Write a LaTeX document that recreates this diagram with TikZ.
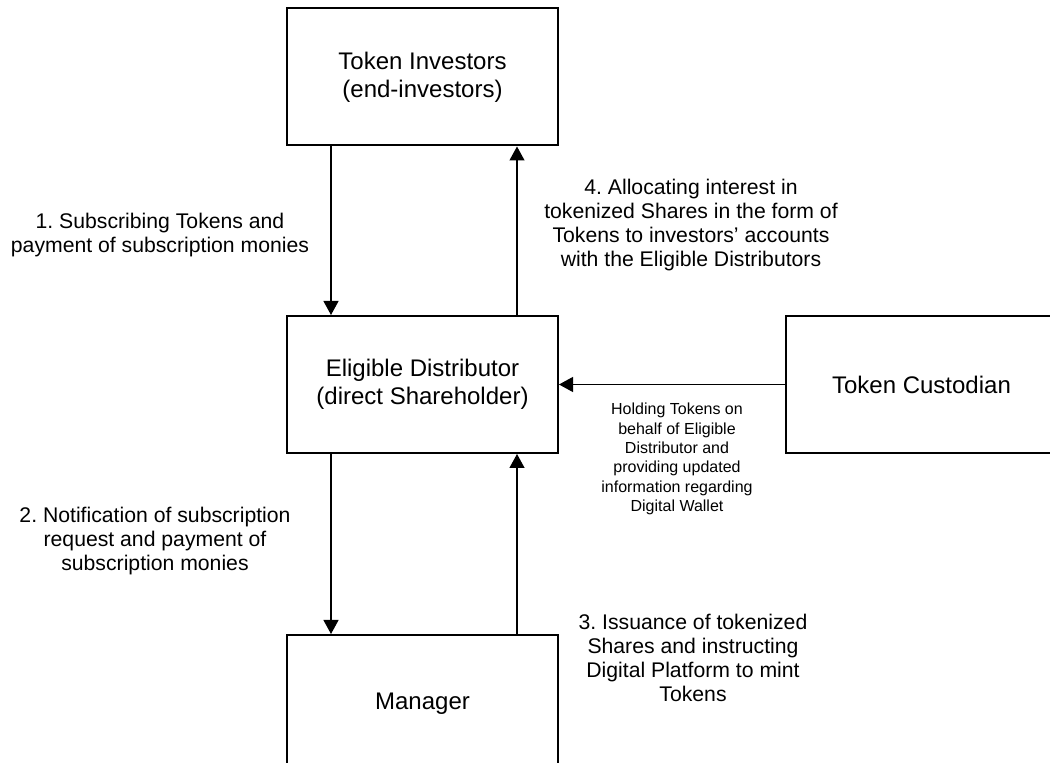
\documentclass[tikz,border=0pt]{standalone}
\usepackage{fontspec}
\setmainfont{Liberation Sans}
\usetikzlibrary{arrows.meta}
\usetikzlibrary{calc}
\frenchspacing

\begin{document}
\begin{tikzpicture} [x=0.5pt, y=-0.5pt,
         box/.style={draw, line width=1pt, minimum width=135.5pt, minimum height=68.5pt,
                     align=center, font=\fontsize{12}{14}\selectfont},
         note/.style={align=center, font=\fontsize{10.6}{12}\selectfont},
         small/.style={align=center, font=\fontsize{8}{9.7}\selectfont},
         flow/.style={-{Triangle[width=7.5pt,length=7pt]}, line width=0.6pt}]
   \useasboundingbox (0,0) rectangle (1050,763);

   % boxes
   \node[box] (inv)  at (422.5,77)    {Token Investors\\(end-investors)};
   \node[box] (dist) at (422.5,384.5) {Eligible Distributor\\(direct Shareholder)};
   \node[box] (cust) at (921.5,384.5) {Token Custodian};
   \node[box] (mgr)  at (422.5,703.5) {Manager};

   % arrows
   \draw[flow] ($(inv.south west)+(45,0)$) -- ($(dist.north west)+(45,0)$);
   \draw[flow] ($(dist.north west)+(231,0)$) -- ($(inv.south west)+(231,0)$);
   \draw[flow] ($(dist.south west)+(45,0)$) -- ($(mgr.north west)+(45,0)$);
   \draw[flow] ($(mgr.north west)+(231,0)$) -- ($(dist.south west)+(231,0)$);
   \draw[flow] (cust.west) -- (dist.east);

   % labels
   \node[note] (step1) at (160,235) {1. Subscribing Tokens and\\payment of subscription monies};
   \node[note] (step2) at (155,541) {2. Notification of subscription\\request and payment of\\subscription monies};
   \node[note] (step3) at (693,658) {3. Issuance of tokenized\\Shares and instructing\\Digital Platform to mint\\Tokens};
   \node[note] (step4) at (691,225) {4. Allocating interest in\\tokenized Shares in the form of\\Tokens to investors’ accounts\\with the Eligible Distributors};
   \node[small] (hold) at (677,459) {Holding Tokens on\\behalf of Eligible\\Distributor and\\providing updated\\information regarding\\Digital Wallet};
\end{tikzpicture}
\end{document}
